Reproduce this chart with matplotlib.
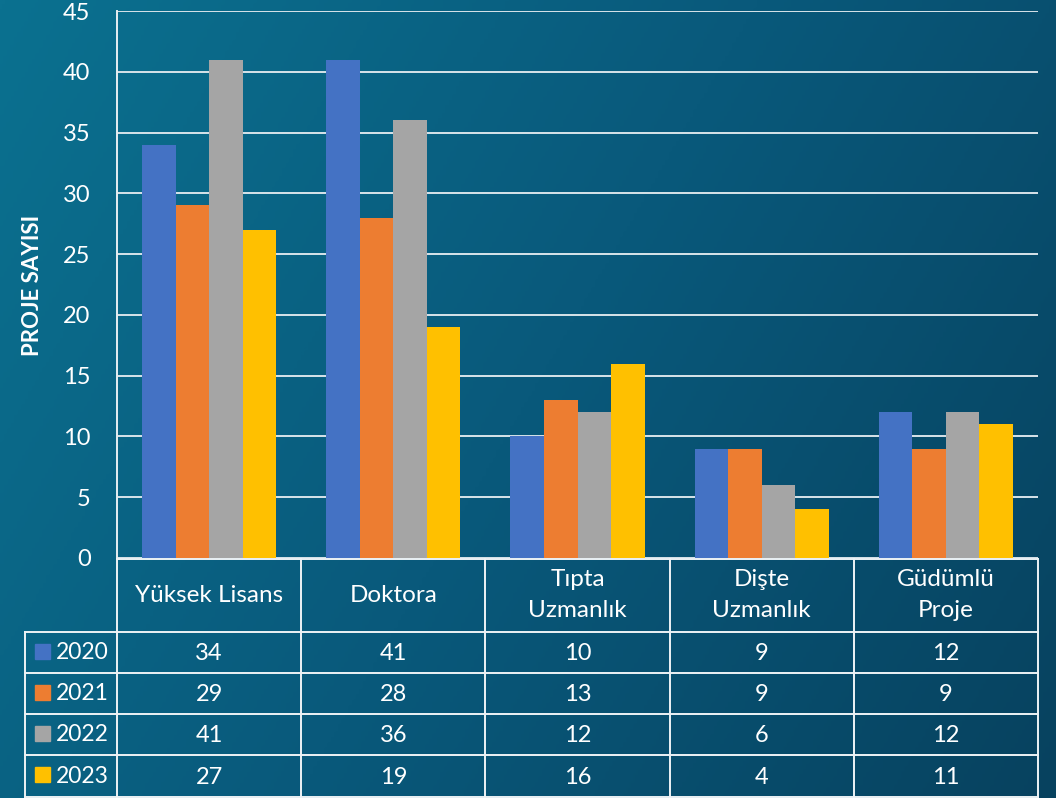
import numpy as np
import matplotlib
matplotlib.use("Agg")
import matplotlib.pyplot as plt
from matplotlib.colors import LinearSegmentedColormap

categories = ["Yüksek Lisans", "Doktora", "Tıpta\nUzmanlık", "Dişte\nUzmanlık", "Güdümlü\nProje"]
years = ["2020", "2021", "2022", "2023"]
v2020 = [34, 41, 10, 9, 12]
v2021 = [29, 28, 13, 9, 9]
v2022 = [41, 36, 12, 6, 12]
v2023 = [27, 19, 16, 4, 11]
series = [v2020, v2021, v2022, v2023]
colors = ["#4472C4", "#ED7D31", "#A5A5A5", "#FFC000"]
y_label = "PROJE SAYISI"

plt.rcParams['font.family'] = ['Lato', 'DejaVu Sans']

W, H = 1056, 798
fig = plt.figure(figsize=(W / 100, H / 100), dpi=100)

# gradient background
bg = fig.add_axes([0, 0, 1, 1], zorder=-10)
gx, gy = np.meshgrid(np.linspace(0, 1, 300), np.linspace(0, 1, 300))
grad = 0.8 * gx + 0.35 * gy
cmap = LinearSegmentedColormap.from_list("bg", ["#0b7190", "#09597b", "#07425f"])
bg.imshow(grad, cmap=cmap, aspect='auto', extent=[0, 1, 0, 1], origin='upper')
bg.axis('off')

def fx(px):
    return px / W

def fy(py):
    return 1 - py / H

L, R, T, B = 117, 1038, 11, 558
ax = fig.add_axes([fx(L), fy(B), fx(R) - fx(L), fy(T) - fy(B)])
ax.patch.set_alpha(0)
n = len(categories)
x = np.arange(n)
w = 0.182
for i, (vals, c) in enumerate(zip(series, colors)):
    ax.bar(x + (i - 1.5) * w, vals, width=w, color=c, zorder=3, label=years[i])
ax.set_xlim(-0.5, n - 0.5)
ax.set_ylim(0, 45)
ax.set_yticks(range(0, 46, 5))
ax.yaxis.grid(True, color="#d8e4ea", linewidth=1.4, zorder=0)
ax.set_axisbelow(True)
ax.set_xticks([])
for s in ["right", "top"]:
    ax.spines[s].set_visible(False)
ax.spines["left"].set_color("#e8eef2")
ax.spines["left"].set_linewidth(1.4)
ax.spines["bottom"].set_visible(False)
ax.tick_params(axis='y', length=0, pad=19, labelsize=17, labelcolor="white")
fig.text(0.031, fy(285), y_label, rotation=90, color="white", fontsize=16,
         fontweight='bold', ha='center', va='center')

# table
tax = fig.add_axes([0, 0, 1, fy(B)], zorder=2)
tax.set_xlim(0, W)
tax.set_ylim(H, B)
tax.axis('off')
lc = "#eef3f6"
lw = 1.4
col_edges = [L + (R - L) * k / n for k in range(n + 1)]
row_edges = [632, 673, 714, 755, 797]
tax.plot([L, R], [B + 1, B + 1], color=lc, lw=lw)
for xe in col_edges:
    tax.plot([xe, xe], [B, H], color=lc, lw=lw)
tax.plot([25, 25], [632, H], color=lc, lw=lw)
for ye in row_edges:
    tax.plot([25, R], [ye, ye], color=lc, lw=lw)
for k, cat in enumerate(categories):
    cx = (col_edges[k] + col_edges[k + 1]) / 2
    tax.text(cx, 595, cat, color="white", fontsize=17.5, ha='center', va='center',
             linespacing=1.55)
    for r, vals in enumerate(series):
        cy = (row_edges[r] + row_edges[r + 1]) / 2
        tax.text(cx, cy + 1, str(vals[k]), color="white", fontsize=17,
                 ha='center', va='center')
for r, (yr, c) in enumerate(zip(years, colors)):
    cy = (row_edges[r] + row_edges[r + 1]) / 2
    tax.add_patch(plt.Rectangle((35, cy - 9), 15, 15, color=c))
    tax.text(56, cy, yr, color="white", fontsize=16.5, ha='left', va='center')

fig.savefig("out.png", dpi=100)
